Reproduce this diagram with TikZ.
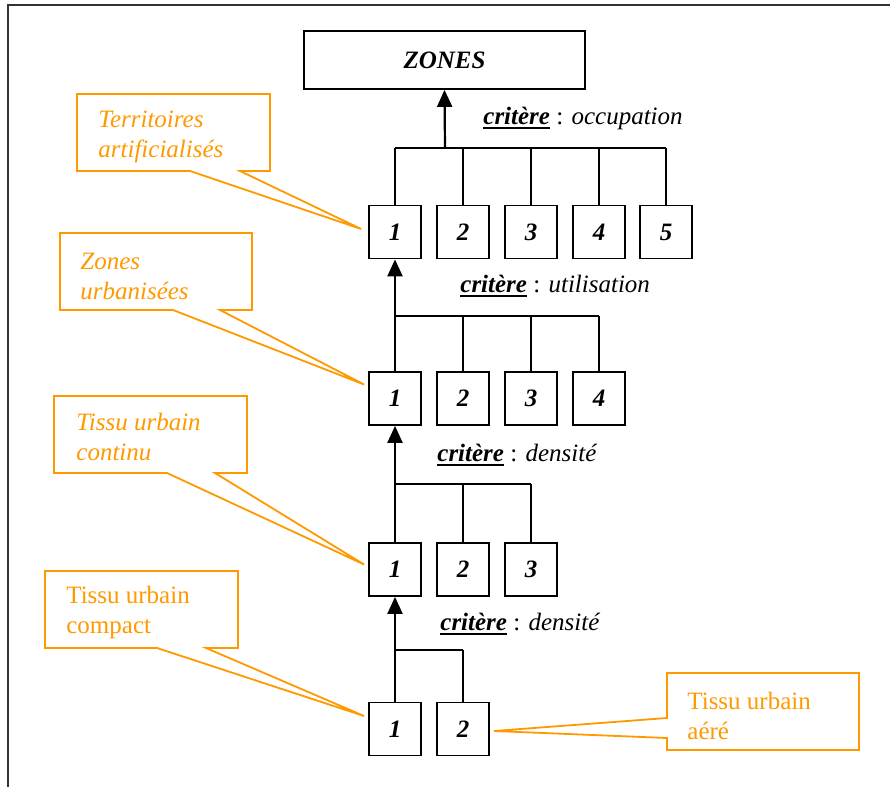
\documentclass[tikz,border=0pt]{standalone}
\usepackage{fontspec}
\setmainfont{Liberation Serif}
\newfontfamily\timesfont{Liberation Serif}
\usetikzlibrary{arrows.meta,calc}
\definecolor{calloutorange}{RGB}{255,153,0}
% bold italic "critère" with a heavy underline
\newcommand{\critul}{\setbox0\hbox{\timesfont\bfseries\itshape critère}\rlap{\rule[-2.6pt]{\wd0}{1.3pt}}\box0}
\newcommand{\basefont}{\timesfont\fontsize{12.5}{15}\selectfont}

\begin{document}
\begin{tikzpicture}[x=0.5pt,y=-0.5pt,
  every node/.style={font=\basefont},
  catbox/.style={draw, line width=0.9pt, minimum width=26pt, minimum height=26.5pt,
    inner sep=0pt, font=\basefont\bfseries\itshape},
  titlebox/.style={draw, line width=0.9pt, minimum width=140.5pt, minimum height=29pt,
    inner sep=0pt, font=\basefont\bfseries\itshape},
  bar/.style={line width=0.75pt},
  uparrow/.style={line width=1.1pt, -{Triangle[width=7.5pt,length=8.5pt]}},
  critlabel/.style={anchor=west, inner sep=0pt},
  calloutline/.style={draw=calloutorange, fill=white, line width=0.9pt, line join=miter},
  callouttext/.style={anchor=west, inner sep=0pt, align=left, text=calloutorange},
  frame/.style={line width=1pt, black!80}
]
\useasboundingbox (0,0) rectangle (890,787);

% page frame (top and left sides)
\draw[frame] (8,787) -- (8,5) -- (890,5);

% top category
\node[titlebox] (zones) at (444.5,60) {ZONES};

% level 1: occupation
\foreach \i/\x in {1/395,2/463,3/531,4/599,5/666}
  \node[catbox] (a\i) at (\x,232) {\i};
\coordinate (abar) at (445,148);
\draw[bar] (a1.north |- abar) -- (a5.north |- abar);
\foreach \i in {1,...,5} \draw[bar] (a\i.north) -- (a\i.north |- abar);
\draw[uparrow] (abar) -- (zones.south);
\node[critlabel] (lab1) at (483,118) {\critul\ : \textit{occupation}};

% level 2: utilisation
\foreach \i/\x in {1/395,2/463,3/531,4/599}
  \node[catbox] (b\i) at (\x,398.5) {\i};
\coordinate (bbar) at (395,316);
\draw[bar] (bbar) -- (b4.north |- bbar);
\foreach \i in {2,3,4} \draw[bar] (b\i.north) -- (b\i.north |- bbar);
\draw[uparrow] (b1.north) -- (a1.south);
\node[critlabel] (lab2) at (460,286) {\critul\ : \textit{utilisation}};

% level 3: densité
\foreach \i/\x in {1/395,2/463,3/531}
  \node[catbox] (c\i) at (\x,569.5) {\i};
\coordinate (cbar) at (395,484);
\draw[bar] (cbar) -- (c3.north |- cbar);
\foreach \i in {2,3} \draw[bar] (c\i.north) -- (c\i.north |- cbar);
\draw[uparrow] (c1.north) -- (b1.south);
\node[critlabel] (lab3) at (437,455) {\critul\ : \textit{densité}};

% level 4: densité
\foreach \i/\x in {1/395,2/463}
  \node[catbox] (d\i) at (\x,729) {\i};
\coordinate (dbar) at (395,650);
\draw[bar] (dbar) -- (d2.north |- dbar);
\draw[bar] (d2.north) -- (d2.north |- dbar);
\draw[uparrow] (d1.north) -- (c1.south);
\node[critlabel] (lab4) at (440,624) {\critul\ : \textit{densité}};

% callouts
\draw[calloutline] (77,94) -- (270,94) -- (270,171) -- (240,171)
  -- ($(a1.west)+(-7,-3)$) -- (190,171) -- (77,171) -- cycle;
\node[callouttext, font=\basefont\itshape] (t1) at (98,137) {Territoires\\artificialisés};

\draw[calloutline] (60,233) -- (252,233) -- (252,310) -- (220,310)
  -- ($(b1.west)+(-4,-14)$) -- (173,310) -- (60,310) -- cycle;
\node[callouttext, font=\basefont\itshape] (t2) at (80,276) {Zones\\urbanisées};

\draw[calloutline] (54,396) -- (247,396) -- (247,473) -- (215,473)
  -- ($(c1.west)+(-4,-5)$) -- (167,473) -- (54,473) -- cycle;
\node[callouttext, font=\basefont\itshape] (t3) at (76,437) {Tissu urbain\\continu};

\draw[calloutline] (45,571) -- (238,571) -- (238,648) -- (206,648)
  -- ($(d1.west)+(-4,-13)$) -- (157,648) -- (45,648) -- cycle;
\node[callouttext] (t4) at (66,612) {Tissu urbain\\compact};

\draw[calloutline] (667,673) -- (859,673) -- (859,750) -- (667,750) -- (667,738)
  -- ($(d2.east)+(4,2)$) -- (667,718) -- cycle;
\node[callouttext] (t5) at (687,716) {Tissu urbain\\aéré};
\end{tikzpicture}
\end{document}
